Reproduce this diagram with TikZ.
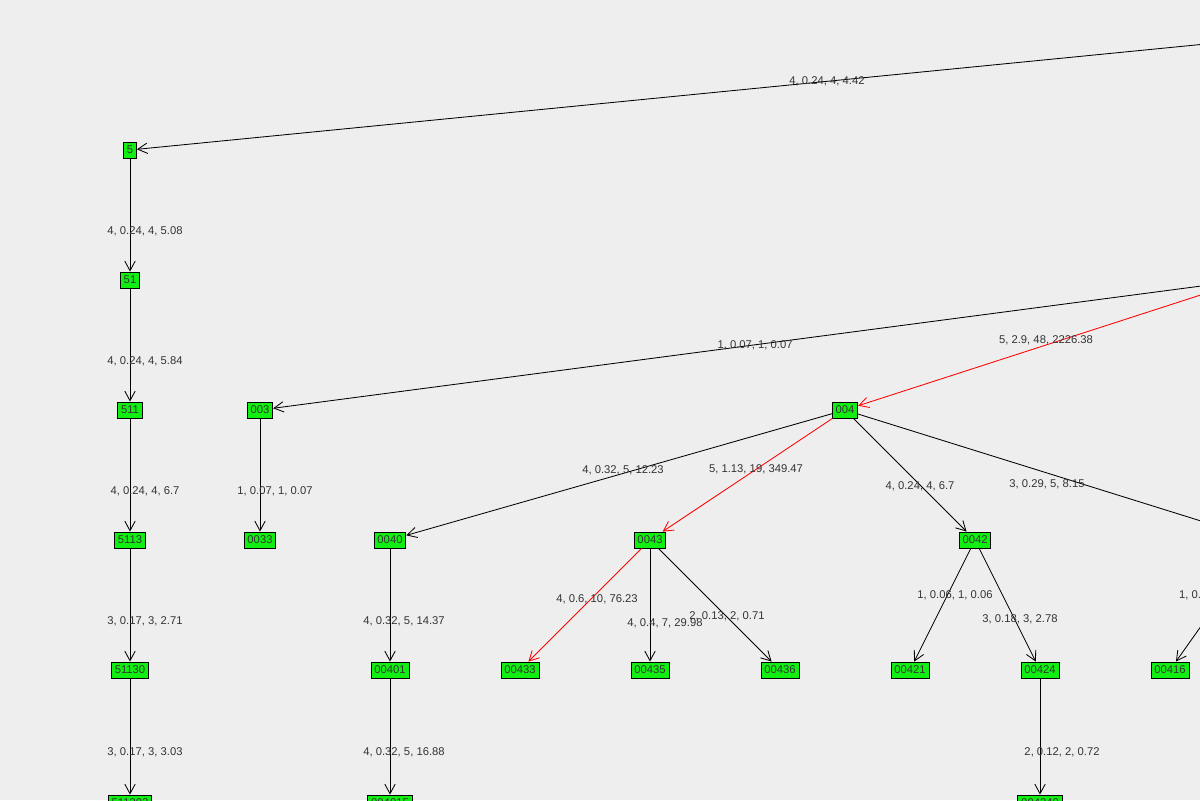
\documentclass[tikz,border=0pt]{standalone}
\usepackage{fontspec}
\setmainfont{Liberation Sans}
\usetikzlibrary{arrows.meta}
\definecolor{bg}{HTML}{EEEEEE}
\definecolor{leaf}{HTML}{11EE11}
\definecolor{lbltext}{HTML}{333333}
\begin{document}
\begin{tikzpicture}[
    x=0.025cm, y=-0.025cm,
    line width=0.6pt,
    vertex/.style={draw, fill=leaf, inner xsep=2.4pt, inner ysep=1.2pt, minimum height=0.4cm, font=\fontsize{8}{9}\selectfont, text=lbltext},
    lbl/.style={font=\fontsize{8}{9}\selectfont, text=lbltext},
    down/.style={lbl, pos=0.64, xshift=0.375cm},
    path/.style={red},
    >={Straight Barb[length=2.4mm,width=2.6mm]}
]
\fill[bg] (0,0) rectangle (1200,800);
\clip (0,0) rectangle (1200,800);

\coordinate (r) at (1490,16);
\node[vertex] (00) at (1247,280) {00};
\node[vertex] (5) at (130,150) {5};
\node[vertex] (51) at (130,280) {51};
\node[vertex] (511) at (130,410) {511};
\node[vertex] (5113) at (130,540) {5113};
\node[vertex] (51130) at (130,670) {51130};
\node[vertex] (511302) at (130,803) {511302};
\node[vertex] (003) at (260,410) {003};
\node[vertex] (0033) at (260,540) {0033};
\node[vertex] (004) at (845,410) {004};
\node[vertex] (0040) at (390,540) {0040};
\node[vertex] (00401) at (390,670) {00401};
\node[vertex] (004015) at (390,803) {004015};
\node[vertex] (0043) at (650,540) {0043};
\node[vertex] (00433) at (520,670) {00433};
\node[vertex] (00435) at (650,670) {00435};
\node[vertex] (00436) at (780,670) {00436};
\node[vertex] (0042) at (975,540) {0042};
\node[vertex] (00421) at (910,670) {00421};
\node[vertex] (00424) at (1040,670) {00424};
\node[vertex] (004240) at (1040,803) {004240};
\node[vertex] (0041) at (1262,540) {0041};
\node[vertex] (00416) at (1170,670) {00416};

\draw[->] (r) -- node[lbl, pos=0.49] {4, 0.24, 4, 4.42} (5);
\draw[->] (5) -- node[down] {4, 0.24, 4, 5.08} (51);
\draw[->] (51) -- node[down] {4, 0.24, 4, 5.84} (511);
\draw[->] (511) -- node[down] {4, 0.24, 4, 6.7} (5113);
\draw[->] (5113) -- node[down] {3, 0.17, 3, 2.71} (51130);
\draw[->] (51130) -- node[down] {3, 0.17, 3, 3.03} (511302);
\draw[->] (00) -- node[lbl] {1, 0.07, 1, 0.07} (003);
\draw[->] (003) -- node[down] {1, 0.07, 1, 0.07} (0033);
\draw[->, path] (00) -- (004);
\node[lbl] at (1046,340) {5, 2.9, 48, 2226.38};
\draw[->] (004) -- (0040);
\node[lbl] at (623,470) {4, 0.32, 5, 12.23};
\draw[->, path] (004) -- (0043);
\node[lbl] at (756,469) {5, 1.13, 19, 349.47};
\draw[->] (004) -- (0042);
\node[lbl] at (920,486) {4, 0.24, 4, 6.7};
\draw[->] (004) -- (0041);
\node[lbl] at (1047,484) {3, 0.29, 5, 8.15};
\draw[->] (0040) -- node[down, xshift=-0.025cm] {4, 0.32, 5, 14.37} (00401);
\draw[->] (00401) -- node[down, xshift=-0.025cm] {4, 0.32, 5, 16.88} (004015);
\draw[->, path] (0043) -- (00433);
\node[lbl] at (597,599) {4, 0.6, 10, 76.23};
\draw[->] (0043) -- (00435);
\node[lbl] at (665,623) {4, 0.4, 7, 29.98};
\draw[->] (0043) -- (00436);
\node[lbl] at (727,616) {2, 0.13, 2, 0.71};
\draw[->] (0042) -- (00421);
\node[lbl] at (955,595) {1, 0.06, 1, 0.06};
\draw[->] (0042) -- (00424);
\node[lbl] at (1020,619) {3, 0.18, 3, 2.78};
\draw[->] (00424) -- node[down, xshift=0.175cm] {2, 0.12, 2, 0.72} (004240);
\draw[->] (0041) -- (00416);
\node[lbl, anchor=west] at (1174,595) {1, 0.06, 1, 0.06};
\node[lbl, anchor=west] at (1195,233) {5};
\end{tikzpicture}
\end{document}
